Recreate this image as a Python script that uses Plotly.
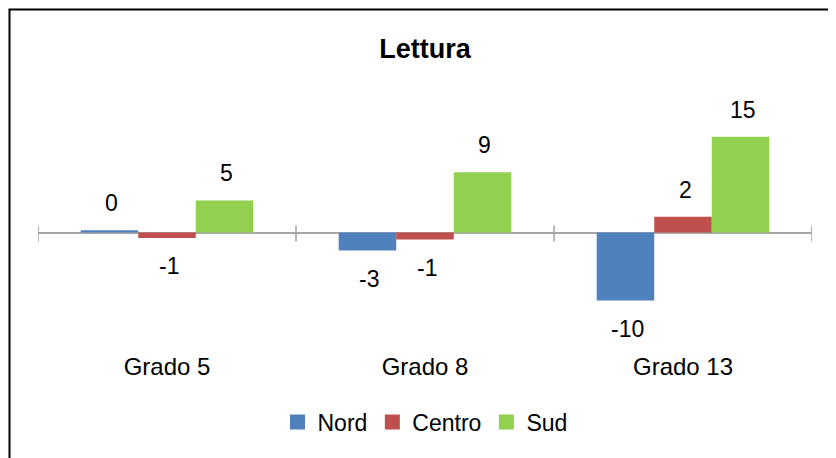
import plotly.graph_objects as go

# data (bar heights), labels are the rounded values
categorie = ["Grado 5", "Grado 8", "Grado 13"]
serie = ["Nord", "Centro", "Sud"]
nord = [0.35, -2.75, -10.4]
centro = [-0.85, -1.07, 2.4]
sud = [4.9, 9.2, 14.6]
colori = ["#4F81BD", "#C0504D", "#92D050"]

FONT = "Liberation Sans, Arial, sans-serif"

# the page body has an 8px margin, so the figure is a bit smaller
OFF = 8
W, H = 836 - OFF, 458 - OFF
L, T = 38 - OFF, 80 - OFF
R = W - (812 - OFF)
B = H - (350 - OFF)
plot_w = W - L - R
plot_h = H - T - B
bargap = 0.331
bar_px = plot_w / len(categorie) * (1 - bargap) / len(serie)

fig = go.Figure()
valori = [nord, centro, sud]
for nome, vals, col in zip(serie, valori, colori):
    fig.add_trace(go.Bar(x=categorie, y=vals, name=nome, marker_color=col,
                         marker_line_width=0, showlegend=False))
    # legend entry with a bigger square
    fig.add_trace(go.Scatter(x=[categorie[0]], y=[None], name=nome, mode="markers",
                             marker=dict(symbol="square", size=15, color=col)))

# data labels, placed a bit away from the bar end like in the original
for i, vals in enumerate(valori):
    for cat, v in zip(categorie, vals):
        fig.add_annotation(x=cat, y=v, text=f"{round(v):d}", showarrow=False,
                           xshift=(i - 1) * bar_px + 2,
                           yshift=27 if v >= 0 else -28, yanchor="middle",
                           font=dict(family=FONT, size=23, color="#000000"))

# tick marks crossing the zero line at the category boundaries
for k in range(len(categorie) + 1):
    fig.add_shape(type="line", xref="x", yref="y", ysizemode="pixel", yanchor=0,
                  x0=k - 0.5, x1=k - 0.5, y0=-9, y1=7,
                  line=dict(color="#a0a0a0", width=1.5))

# outer frame (cropped on the right and bottom)
def px_x(p):
    return (p - OFF - L) / plot_w

def px_y(p):
    return (T + plot_h - (p - OFF)) / plot_h

fig.add_shape(type="rect", xref="paper", yref="paper",
              x0=px_x(9.5), x1=px_x(850), y0=px_y(470), y1=px_y(9.5),
              line=dict(color="#000000", width=2), layer="above")

zero_px = 232.5 - OFF
scale = 6.55
fig.update_layout(
    width=W, height=H,
    margin=dict(l=L, r=R, t=T, b=B),
    paper_bgcolor="white", plot_bgcolor="white",
    barmode="group", bargap=bargap, bargroupgap=0,
    title=dict(text="<b>Lettura</b>", x=0.5, xref="paper", xanchor="center",
               y=1 - (49 - OFF) / H, yref="container", yanchor="middle",
               font=dict(family=FONT, size=27, color="#000000")),
    font=dict(family=FONT, color="#000000"),
    legend=dict(orientation="h", x=0.5, xref="paper", xanchor="center",
                y=1 - (422 - OFF) / H, yref="container", yanchor="middle",
                font=dict(family=FONT, size=23, color="#000000"),
                itemwidth=30, bgcolor="rgba(0,0,0,0)"),
    xaxis=dict(showline=False, showgrid=False, ticks="", range=[-0.5, 2.5],
               tickfont=dict(family=FONT, size=24, color="#000000")),
    yaxis=dict(visible=True, showticklabels=False, showgrid=False, ticks="",
               showline=False,
               range=[-(T + plot_h - zero_px) / scale, (zero_px - T) / scale],
               zeroline=True, zerolinecolor="#a6a6a6", zerolinewidth=1.5),
)

fig.write_html("out.html")
